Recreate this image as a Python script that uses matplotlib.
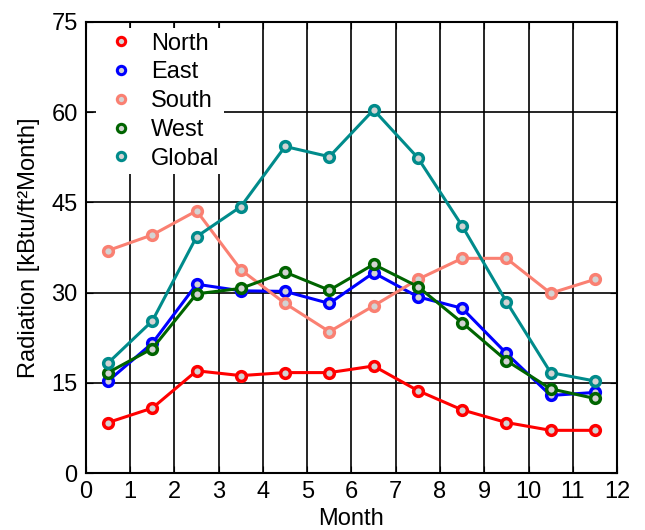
import numpy as np
import matplotlib
matplotlib.use('Agg')
import matplotlib.pyplot as plt
from matplotlib.lines import Line2D

plt.rcParams['font.family'] = ['Liberation Sans', 'DejaVu Sans']

# Monthly radiation per orientation, plotted at mid-month
months = np.arange(12) + 0.5
north = [8.4, 10.8, 17.0, 16.2, 16.7, 16.7, 17.8, 13.7, 10.5, 8.4, 7.1, 7.1]
east = [15.3, 21.6, 31.4, 30.3, 30.2, 28.2, 33.3, 29.3, 27.4, 19.9, 12.9, 13.4]
south = [37.0, 39.6, 43.6, 33.8, 28.2, 23.5, 27.8, 32.2, 35.7, 35.7, 29.9, 32.2]
west = [16.7, 20.7, 29.8, 30.7, 33.4, 30.4, 34.7, 31.0, 25.0, 18.7, 14.0, 12.4]
glob = [18.3, 25.3, 39.3, 44.3, 54.3, 52.6, 60.4, 52.4, 41.1, 28.5, 16.7, 15.3]

names = ['North', 'East', 'South', 'West', 'Global']
colors = ['red', 'blue', 'salmon', 'darkgreen', 'darkcyan']
series = [north, east, south, west, glob]

fig = plt.figure(figsize=(6.45, 5.30), dpi=100)
ax = fig.add_axes([0.1333, 0.1075, 0.8233, 0.851])

handles = []
for vals, c, n in zip(series, colors, names):
    ax.plot(months, vals, color=c, lw=2.2, marker='o', ms=7,
            mfc='lightgray', mec=c, mew=2.5, zorder=3)
    handles.append(Line2D([], [], ls='none', marker='o', ms=6,
                          mfc='lightgray', mec=c, mew=2.2, label=n))

ax.set_xlim(0, 12)
ax.set_ylim(0, 75)
ax.set_xticks(np.arange(0, 13, 1))
ax.set_yticks(np.arange(0, 76, 15))
ax.grid(True, color='black', lw=1.2, ls='-')
ax.set_axisbelow(True)
for s in ax.spines.values():
    s.set_linewidth(1.5)
ax.tick_params(direction='in', labelsize=17, length=5, pad=6,
               top=True, right=True)

ax.set_xlabel('Month', fontsize=17, labelpad=3)
ax.set_ylabel('Radiation [kBtu/ft²Month]', fontsize=17, labelpad=8)

leg = ax.legend(handles=handles, loc='upper left', bbox_to_anchor=(0.0075, 1),
                fontsize=17, frameon=True,
                handlelength=1.75, handletextpad=0.4, labelspacing=0.285,
                borderaxespad=0.25, borderpad=0.2)
leg.get_frame().set_edgecolor('none')
leg.get_frame().set_facecolor('white')
leg.get_frame().set_alpha(1)

fig.savefig('out.png', dpi=100)
